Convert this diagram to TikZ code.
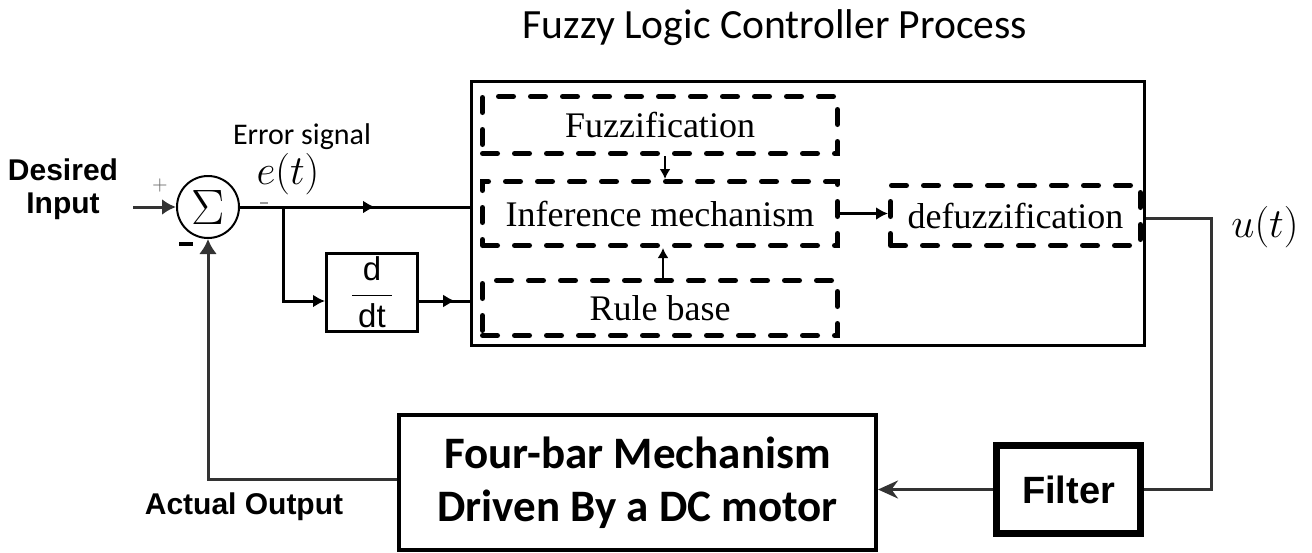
\documentclass[tikz,border=0pt]{standalone}
\usepackage{fontspec}
\setmainfont{Liberation Serif}
\newfontfamily\calib{Carlito}
\newfontfamily\arial{Liberation Sans}
\usetikzlibrary{arrows.meta,decorations.markings}
\begin{document}
\begin{tikzpicture}[x=0.5pt,y=-0.5pt,
  conn/.style={line width=1.5pt, black},
  thinconn/.style={line width=1pt, black},
  graylink/.style={line width=1.5pt, black!80},
  dbox/.style={draw, line width=2.5pt, dash pattern=on 7.5pt off 8.5pt, line cap=round,
    inner sep=0pt, font=\fontsize{18}{20}\selectfont},
  solidbox/.style={draw, inner sep=0pt},
  midarrow/.style={postaction={decorate}, decoration={markings,
    mark=at position #1 with {\arrow{Latex[length=6pt,width=6.5pt]}}}},
]
\useasboundingbox (0,0) rectangle (1312,552);

% title
\node[font=\calib\fontsize{20.8}{24}\selectfont] (title) at (775,28) {Fuzzy Logic Controller Process};

% FLC outer box and inner blocks
\node[solidbox, line width=1.5pt, minimum width=336.5pt, minimum height=132pt] (flc) at (808,213.5) {};
\node[dbox, minimum width=177.5pt, minimum height=28.5pt] (fuzz) at (660,125) {Fuzzification};
\node[dbox, minimum width=177.5pt, minimum height=32pt] (inf) at (660,213.5) {Inference mechanism};
\node[dbox, minimum width=177.5pt, minimum height=27.5pt] (rule) at (660,308) {Rule base};
\node[dbox, minimum width=125pt, minimum height=30pt] (defuzz) at (1015.5,215.5) {defuzzification};

% summing junction
\node[circle, draw, line width=1pt, minimum size=31pt, inner sep=0pt,
  font=\fontsize{24}{24}\selectfont] (sum) at (208,207) {$\Sigma$};

% d/dt block
\node[solidbox, line width=1.5pt, minimum width=45.5pt, minimum height=39pt,
  font=\arial\fontsize{16.5}{18}\selectfont] (ddt) at (372,292.5)
  {$\displaystyle\frac{\mbox{d}}{\mbox{\hspace{3pt}dt\hspace{3pt}}}$};

% plant and filter
\node[solidbox, line width=2pt, minimum width=238.5pt, minimum height=67.5pt, align=center,
  font=\calib\bfseries\fontsize{22.5}{26.5}\selectfont] (fourbar) at (637.5,482.5)
  {Four-bar Mechanism\\[0pt]Driven By a DC motor};
\node[solidbox, line width=3.5pt, minimum width=72pt, minimum height=44pt,
  font=\arial\bfseries\fontsize{19}{20}\selectfont] (filter) at (1068.5,489.5) {Filter};

% labels
\node[font=\arial\bfseries\fontsize{15}{16.5}\selectfont, align=center] (des) at (63,189) {Desired\\Input};
\node[font=\calib\fontsize{15}{17}\selectfont] (err) at (302,137) {Error signal};
\node[inner sep=0pt, font=\fontsize{20}{22}\selectfont] (et) at (288,174) {$e(t)$};
\node[font=\fontsize{20}{22}\selectfont] (ut) at (1265,227) {$u(t)$};
\node[font=\fontsize{10}{10}\selectfont, text=black!60] (plus) at (160,185) {$+$};
\node[inner sep=0pt] (minus) at (186,244) {\rule{7pt}{1.8pt}};
\node[inner sep=0pt] (dsh) at (264,203) {\color{black!40}\rule{4pt}{0.6pt}};
\node[font=\arial\bfseries\fontsize{15}{16}\selectfont] (act) at (244,507) {Actual Output};

% coordinates
\coordinate (inp) at (133,207);
\coordinate (br) at (283,207);
\coordinate (dline) at (0,301);
\coordinate (ucorner) at (1211,218);
\coordinate (fb) at (208,479);

% connectors
\draw[graylink, -{Latex[length=7pt,width=8pt]}] (inp) -- (sum.west);
\draw[conn, midarrow=0.587] (sum.east) -- (sum.east -| flc.west);
\draw[conn, -{Latex[length=6pt,width=6.5pt]}] (br) |- (ddt.west |- dline);
\draw[conn, midarrow=0.71] (ddt.east |- dline) -- (flc.west |- dline);
\draw[thinconn, -{Latex[length=5pt,width=5.5pt]}] ([xshift=2.5pt]fuzz.south) -- ([xshift=2.5pt]inf.north);
\draw[thinconn, -{Latex[length=5pt,width=5.5pt]}] ([xshift=1.5pt]rule.north) -- ([xshift=1.5pt]inf.south);
\draw[conn, -{Latex[length=6pt,width=6.5pt]}] (inf.east) -- (defuzz.west |- inf.east);
\draw[graylink] (flc.east |- ucorner) -- (ucorner) |- (filter.east);
\draw[graylink, -{Stealth[length=10pt,width=9pt]}] (filter.west) -- (filter.west -| fourbar.east);
\draw[graylink, -{Latex[length=7.5pt,width=9pt]}] (fourbar.west |- fb) -- (fb) -- (sum.south);
\end{tikzpicture}
\end{document}
